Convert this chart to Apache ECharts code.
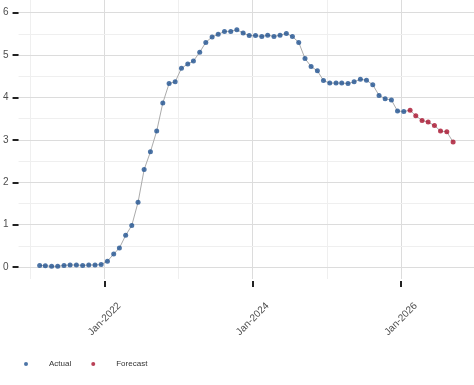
<!DOCTYPE html>
<html>
<head>
<meta charset="utf-8">
<script src="https://cdn.jsdelivr.net/npm/echarts@6/dist/echarts.min.js"></script>
<style>
html,body{margin:0;padding:0;background:#fff;}
#chart{width:474px;height:385px;}
</style>
</head>
<body>
<div id="chart"></div>
<script>
const actualMonths = [
  '2021-02','2021-03','2021-04','2021-05','2021-06','2021-07','2021-08','2021-09','2021-10','2021-11','2021-12',
  '2022-01','2022-02','2022-03','2022-04','2022-05','2022-06','2022-07','2022-08','2022-09','2022-10','2022-11','2022-12',
  '2023-01','2023-02','2023-03','2023-04','2023-05','2023-06','2023-07','2023-08','2023-09','2023-10','2023-11','2023-12',
  '2024-01','2024-02','2024-03','2024-04','2024-05','2024-06','2024-07','2024-08','2024-09','2024-10','2024-11','2024-12',
  '2025-01','2025-02','2025-03','2025-04','2025-05','2025-06','2025-07','2025-08','2025-09','2025-10','2025-11','2025-12',
  '2026-01'
];
const actualValues = [
  0.04,0.03,0.02,0.02,0.04,0.05,0.05,0.04,0.05,0.05,0.06,
  0.14,0.31,0.45,0.75,0.98,1.53,2.30,2.72,3.21,3.87,4.33,4.37,
  4.69,4.79,4.86,5.07,5.30,5.43,5.49,5.56,5.56,5.60,5.52,5.46,
  5.46,5.44,5.47,5.44,5.47,5.51,5.44,5.30,4.92,4.73,4.63,4.40,
  4.34,4.34,4.34,4.33,4.37,4.43,4.41,4.30,4.05,3.97,3.94,3.68,
  3.67
];
const forecastMonths = ['2026-02','2026-03','2026-04','2026-05','2026-06','2026-07','2026-08','2026-09'];
const forecastValues = [3.70,3.57,3.46,3.42,3.34,3.21,3.19,2.95];
const majorXGrid = ['2022-01','2024-01','2026-01'];
const minorXGrid = ['2021-01','2023-01','2025-01'];
const yTickValues = [0,1,2,3,4,5,6];
const yMinorGrid = [0.5,1.5,2.5,3.5,4.5,5.5];

function toTime(ym, day) {
  const p = ym.split('-').map(Number);
  return Date.UTC(p[0], p[1] - 1, day);
}
const actualData = actualMonths.map((m, i) => [toTime(m, 15), actualValues[i]]);
const forecastData = forecastMonths.map((m, i) => [toTime(m, 15), forecastValues[i]]);
const allData = actualData.concat(forecastData);
const xTickTimes = majorXGrid.map(m => toTime(m, 1));

const gridLines = []
  .concat(minorXGrid.map(m => ({xAxis: toTime(m, 1), lineStyle: {color: '#efefef', width: 1, type: 'solid'}})))
  .concat(majorXGrid.map(m => ({xAxis: toTime(m, 1), lineStyle: {color: '#dcdcdc', width: 1, type: 'solid'}})))
  .concat(yMinorGrid.map(v => ({yAxis: v, lineStyle: {color: '#efefef', width: 1, type: 'solid'}})))
  .concat(yTickValues.map(v => ({yAxis: v, lineStyle: {color: '#dcdcdc', width: 1, type: 'solid'}})));

const font = "'Liberation Sans', Arial, sans-serif";
const chart = echarts.init(document.getElementById('chart'), null, {renderer: 'canvas'});
chart.setOption({
  animation: false,
  backgroundColor: '#ffffff',
  grid: {left: 17, right: 0, top: 0, bottom: 106, containLabel: false},
  legend: {
    data: ['Actual', 'Forecast'],
    left: 24, top: 360, padding: 0,
    icon: 'circle', itemWidth: 36, itemHeight: 4, itemGap: 20,
    textStyle: {fontSize: 8, color: '#333', fontFamily: font}
  },
  xAxis: {
    type: 'value',
    min: Date.UTC(2020, 10, 3),
    max: Date.UTC(2026, 11, 27),
    offset: 2,
    axisLine: {show: false, onZero: false},
    splitLine: {show: false},
    axisTick: {show: true, customValues: xTickTimes, length: 6, lineStyle: {color: '#222', width: 2}},
    axisLabel: {
      customValues: xTickTimes,
      rotate: 45, align: 'center', verticalAlign: 'middle', margin: 38,
      fontSize: 10, color: '#4d4d4d', fontFamily: font,
      formatter: v => 'Jan-' + new Date(v).getUTCFullYear()
    }
  },
  yAxis: {
    type: 'value',
    min: -0.28, max: 6.30,
    axisLine: {show: false, onZero: false},
    splitLine: {show: false},
    axisTick: {show: true, customValues: yTickValues, length: 6, lineStyle: {color: '#222', width: 2}},
    axisLabel: {customValues: yTickValues, margin: 10, fontSize: 10, color: '#4d4d4d', fontFamily: font}
  },
  series: [
    {
      name: 'grid', type: 'line', data: [], silent: true, z: 0,
      markLine: {silent: true, symbol: 'none', label: {show: false}, z: 0, animation: false, data: gridLines}
    },
    {
      name: 'connector', type: 'line', data: allData, showSymbol: false, z: 2, silent: true,
      lineStyle: {color: '#ababab', width: 1}
    },
    {
      name: 'Actual', type: 'scatter', data: actualData, symbol: 'circle', symbolSize: 5, z: 3,
      itemStyle: {color: '#1f5190'}
    },
    {
      name: 'Forecast', type: 'scatter', data: forecastData, symbol: 'circle', symbolSize: 5, z: 3,
      itemStyle: {color: '#a8102c'}
    }
  ]
});
</script>
</body>
</html>
